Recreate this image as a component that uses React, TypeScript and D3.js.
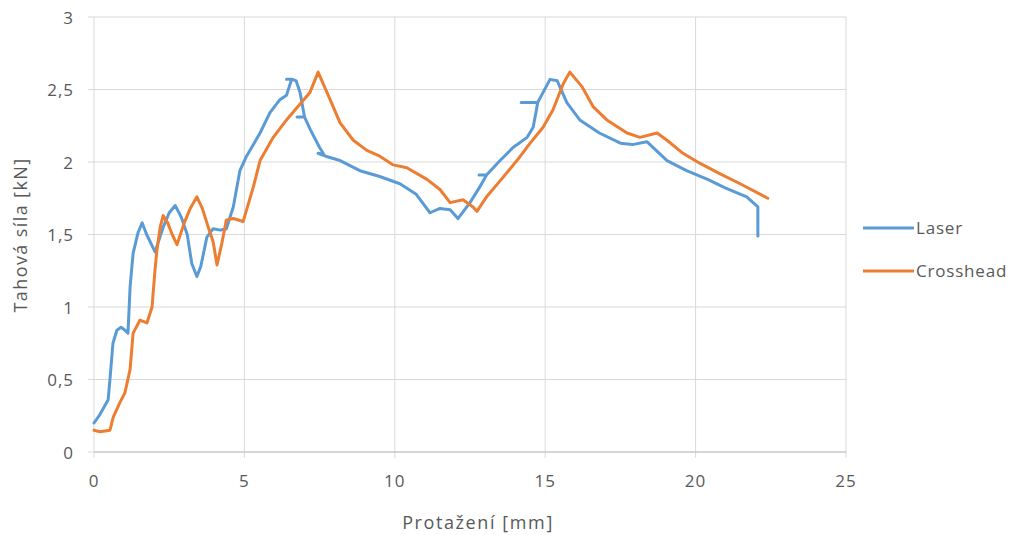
import React from "react";
import * as d3 from "d3";

const xTicks = [0, 5, 10, 15, 20, 25];
const yTicks = [0, 0.5, 1, 1.5, 2, 2.5, 3];
const seriesNames = ["Laser", "Crosshead"];
const seriesColors = ["#5B9BD5", "#ED7D31"];

const laserX = [0, 0.2, 0.47, 0.53, 0.63, 0.76, 0.9, 1.03, 1.13, 1.2, 1.3, 1.46, 1.6, 1.75, 2.03, 2.3, 2.5, 2.7, 2.9, 3.1, 3.25, 3.42, 3.55, 3.75, 3.96, 4.2, 4.4, 4.63, 4.85, 5.07, 5.3, 5.52, 5.85, 6.18, 6.4, 6.57, 6.4, 6.6, 6.72, 6.85, 7.0, 6.75, 7.0, 7.2, 7.5, 7.65, 7.45, 7.7, 8.18, 8.84, 9.5, 10.17, 10.7, 11.17, 11.5, 11.84, 12.1, 12.5, 12.83, 13.05, 12.8, 13.05, 13.5, 13.93, 14.4, 14.6, 14.7, 14.75, 14.2, 14.75, 14.93, 15.16, 15.4, 15.72, 16.15, 16.8, 17.5, 17.9, 18.38, 19.05, 19.7, 20.4, 21.0, 21.7, 22.07, 22.07];
const laserY = [0.2, 0.26, 0.36, 0.5, 0.75, 0.84, 0.86, 0.84, 0.82, 1.14, 1.37, 1.51, 1.58, 1.5, 1.38, 1.55, 1.65, 1.7, 1.62, 1.5, 1.3, 1.21, 1.28, 1.48, 1.54, 1.53, 1.54, 1.69, 1.94, 2.04, 2.12, 2.2, 2.34, 2.43, 2.46, 2.57, 2.57, 2.57, 2.56, 2.48, 2.31, 2.31, 2.31, 2.22, 2.1, 2.05, 2.06, 2.04, 2.01, 1.94, 1.9, 1.85, 1.78, 1.65, 1.68, 1.67, 1.61, 1.72, 1.83, 1.91, 1.91, 1.91, 2.01, 2.1, 2.17, 2.24, 2.35, 2.41, 2.41, 2.41, 2.48, 2.57, 2.56, 2.41, 2.29, 2.2, 2.13, 2.12, 2.14, 2.01, 1.94, 1.88, 1.82, 1.76, 1.69, 1.49];

const crossX = [0, 0.2, 0.53, 0.64, 0.86, 1.03, 1.2, 1.3, 1.53, 1.76, 1.93, 2.03, 2.09, 2.2, 2.3, 2.45, 2.6, 2.76, 3.0, 3.2, 3.42, 3.6, 3.8, 3.96, 4.09, 4.25, 4.4, 4.63, 4.96, 5.3, 5.52, 5.96, 6.4, 6.85, 7.18, 7.45, 7.85, 8.18, 8.62, 9.07, 9.5, 9.95, 10.4, 11.07, 11.5, 11.84, 12.27, 12.6, 12.73, 13.05, 13.5, 14.06, 14.5, 14.93, 15.26, 15.6, 15.82, 16.22, 16.6, 17.05, 17.72, 18.15, 18.72, 19.05, 19.58, 20.15, 20.8, 21.48, 22.4];
const crossY = [0.15, 0.14, 0.15, 0.24, 0.34, 0.41, 0.57, 0.82, 0.91, 0.89, 1.0, 1.26, 1.39, 1.55, 1.63, 1.58, 1.5, 1.43, 1.58, 1.68, 1.76, 1.68, 1.55, 1.45, 1.29, 1.44, 1.6, 1.61, 1.59, 1.83, 2.01, 2.17, 2.29, 2.4, 2.48, 2.62, 2.43, 2.27, 2.15, 2.08, 2.04, 1.98, 1.96, 1.88, 1.81, 1.72, 1.74, 1.69, 1.66, 1.76, 1.87, 2.01, 2.13, 2.24, 2.36, 2.54, 2.62, 2.52, 2.38, 2.29, 2.2, 2.17, 2.2, 2.15, 2.06, 1.99, 1.92, 1.85, 1.75];

const W = 1023;
const H = 535;
const left = 94;
const right = 846;
const top = 17;
const bottom = 452;
const font = "'Open Sans', sans-serif";
const textColor = "#595959";

export default function App() {
  const x = d3.scaleLinear().domain([0, 25]).range([left, right]);
  const y = d3.scaleLinear().domain([0, 3]).range([bottom, top]);
  const line = d3
    .line<[number, number]>()
    .x((d) => x(d[0]))
    .y((d) => y(d[1]))
    .curve(d3.curveLinear);
  const series = [
    laserX.map((v, i) => [v, laserY[i]] as [number, number]),
    crossX.map((v, i) => [v, crossY[i]] as [number, number]),
  ];
  return (
    <svg
      width={W}
      height={H}
      style={{ position: "absolute", left: 0, top: 0, background: "#fff" }}
      fontFamily={font}
    >
      <rect x={0} y={0} width={W} height={H} fill="#fff" />
      {yTicks.map((t) => (
        <line key={"hy" + t} x1={left - 6} x2={right} y1={y(t)} y2={y(t)} stroke="#d9d9d9" strokeWidth={1} />
      ))}
      {xTicks.map((t) => (
        <line key={"vx" + t} x1={x(t)} x2={x(t)} y1={top} y2={bottom + 6} stroke="#d9d9d9" strokeWidth={1} />
      ))}
      <line x1={left} x2={right} y1={bottom} y2={bottom} stroke="#bfbfbf" strokeWidth={1} />
      {yTicks.map((t) => (
        <text key={"ty" + t} x={74} y={y(t) + 6.5} textAnchor="end" fontSize={17} letterSpacing={1} fill={textColor}>
          {d3.format(".1~f")(t).replace(".", ",")}
        </text>
      ))}
      {xTicks.map((t) => (
        <text key={"tx" + t} x={x(t)} y={487} textAnchor="middle" fontSize={17} letterSpacing={1} fill={textColor}>
          {t}
        </text>
      ))}
      <text x={478} y={529} textAnchor="middle" fontSize={18} letterSpacing={1.6} fill={textColor}>
        Protažení [mm]
      </text>
      <text
        transform={`translate(27,235) rotate(-90)`}
        textAnchor="middle"
        fontSize={18}
        letterSpacing={1.4}
        fill={textColor}
      >
        Tahová síla [kN]
      </text>
      {series.map((s, i) => (
        <path
          key={"s" + i}
          d={line(s) || ""}
          fill="none"
          stroke={seriesColors[i]}
          strokeWidth={3}
          strokeLinejoin="round"
          strokeLinecap="round"
        />
      ))}
      {seriesNames.map((n, i) => (
        <g key={"lg" + i} transform={`translate(0,${228 + i * 43})`}>
          <line x1={863} x2={914} y1={0} y2={0} stroke={seriesColors[i]} strokeWidth={3} />
          <text x={916} y={6} fontSize={17} letterSpacing={0.8} fill={textColor}>
            {n}
          </text>
        </g>
      ))}
    </svg>
  );
}
